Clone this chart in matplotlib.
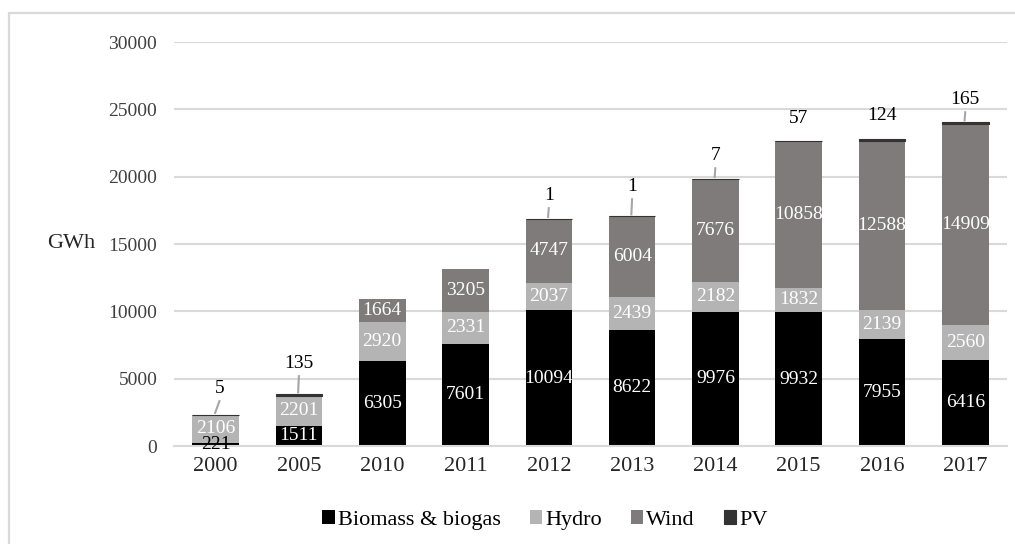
import numpy as np
import matplotlib
matplotlib.use('Agg')
import matplotlib.pyplot as plt
from matplotlib.patches import Rectangle

# data (GWh)
years = ['2000', '2005', '2010', '2011', '2012', '2013', '2014', '2015', '2016', '2017']
biomass = [221, 1511, 6305, 7601, 10094, 8622, 9976, 9932, 7955, 6416]
hydro = [2106, 2201, 2920, 2331, 2037, 2439, 2182, 1832, 2139, 2560]
wind = [0, 0, 1664, 3205, 4747, 6004, 7676, 10858, 12588, 14909]
pv = [5, 135, 0, 0, 1, 1, 7, 57, 124, 165]

series_names = ['Biomass & biogas', 'Hydro', 'Wind', 'PV']
colors = ['#000000', '#b4b4b4', '#7f7b7b', '#333333']

# PV label placement (offset above bar top, in GWh) and leader lines
pv_offset = [1975, 2316, 0, 0, 1759, 2240, 1767, 1677, 1773, 1717]
pv_leader = [True, True, False, False, True, True, True, False, False, True]

plt.rcParams['font.family'] = ['Liberation Serif', 'DejaVu Serif']

fig = plt.figure(figsize=(10.15, 5.44), dpi=100)
ax = fig.add_axes([0.1714, 0.1801, 0.8207, 0.7426])

x = np.arange(len(years))
width = 0.56
b = np.array(biomass, dtype=float)
h = np.array(hydro, dtype=float)
w = np.array(wind, dtype=float)
p = np.array(pv, dtype=float)

ax.bar(x, b, width, color=colors[0], label=series_names[0], zorder=2)
ax.bar(x, h, width, bottom=b, color=colors[1], label=series_names[1], zorder=2)
ax.bar(x, w, width, bottom=b + h, color=colors[2], label=series_names[2], zorder=2)
ax.bar(x, p, width, bottom=b + h + w, color=colors[3], label=series_names[3], zorder=2,
       edgecolor=[colors[3] if v > 0 else 'none' for v in pv], linewidth=0.8)

fs_lab = 14
for i in range(len(years)):
    # biomass
    tc = 'black' if biomass[i] < 1000 else 'white'
    ax.text(x[i], b[i] / 2, str(biomass[i]), ha='center', va='center',
            color=tc, fontsize=fs_lab, zorder=3)
    ax.text(x[i], b[i] + h[i] / 2, str(hydro[i]), ha='center', va='center',
            color='white', fontsize=fs_lab, zorder=3)
    if wind[i] > 0:
        ax.text(x[i], b[i] + h[i] + w[i] / 2, str(wind[i]), ha='center', va='center',
                color='white', fontsize=fs_lab, zorder=3)
    if pv[i] > 0:
        top = b[i] + h[i] + w[i] + p[i]
        ly = top + pv_offset[i]
        lx = x[i] + (0.05 if i == 0 else 0)
        ax.text(lx, ly, str(pv[i]), ha='center', va='center', color='black',
                fontsize=fs_lab, zorder=3)
        if pv_leader[i]:
            ax.plot([lx, x[i] - 0.01], [ly - 900, top + 60], color='#a6a6a6',
                    lw=1.5, zorder=3, solid_capstyle='butt')

ax.set_xlim(-0.5, len(years) - 0.5)
ax.set_ylim(0, 30000)
ax.set_yticks(np.arange(0, 30001, 5000))
ax.set_xticks(x)
ax.set_xticklabels(years)
ax.yaxis.grid(True, color='#d9d9d9', lw=1.5, zorder=0)
ax.set_axisbelow(True)
for s in ['top', 'right', 'left']:
    ax.spines[s].set_visible(False)
ax.spines['bottom'].set_color('#d9d9d9')
ax.spines['bottom'].set_linewidth(1.5)
ax.tick_params(axis='y', length=0, pad=12, labelsize=14, labelcolor='#404040')
ax.tick_params(axis='x', length=0, pad=8, labelsize=16, labelcolor='#262626')

fig.text(0.094, (544 - 244) / 544, 'GWh', ha='right', va='center', fontsize=16, color='#262626')

leg = fig.legend(loc='center', bbox_to_anchor=(0.537, 0.044), ncol=4, frameon=False,
                 fontsize=16, handlelength=0.55, handleheight=0.55, handletextpad=0.15,
                 columnspacing=1.3)

# outer chart frame
fig.patches.append(Rectangle((9 / 1015, -0.1), 1.2, 1.0 - 13 / 544 + 0.1,
                             transform=fig.transFigure, fill=False,
                             edgecolor='#d9d9d9', lw=1.6))

fig.savefig('out.png', dpi=100)
